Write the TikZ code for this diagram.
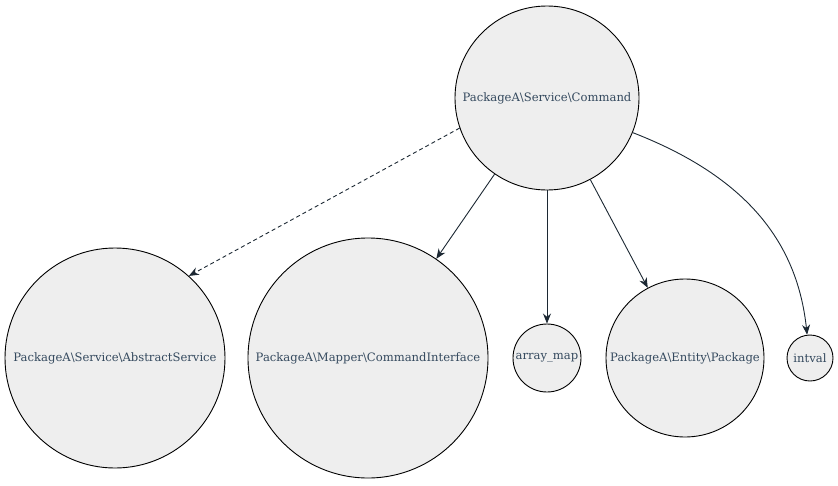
\documentclass[tikz,border=0pt]{standalone}
\usepackage{fontspec}
\setmainfont{DejaVu Serif}
\usetikzlibrary{arrows.meta}
\definecolor{nodefill}{HTML}{EEEEEE}
\definecolor{txt}{HTML}{34495E}
\definecolor{edge}{HTML}{1C2833}
\tikzset{
  cls/.style={circle, draw=black, line width=0.9pt, fill=nodefill, text=txt, font=\fontsize{11.6}{14}\selectfont, inner sep=0pt},
  dep/.style={draw=edge, line width=0.9pt, -{Stealth[length=10pt,width=8pt]}},
}
\begin{document}
\begin{tikzpicture}[x=1pt,y=-1pt]
\useasboundingbox (0,0) rectangle (838,485);
\node[cls, minimum size=184pt] (cmd) at (547,98) {PackageA\textbackslash Service\textbackslash Command};
\node[cls, minimum size=220pt] (abs) at (115,358) {PackageA\textbackslash Service\textbackslash AbstractService};
\node[cls, minimum size=240pt] (ci) at (368,358) {PackageA\textbackslash Mapper\textbackslash CommandInterface};
\node[cls, minimum size=68pt] (am) at (547,358) {array\_map};
\node[cls, minimum size=158pt] (pkg) at (685,358) {PackageA\textbackslash Entity\textbackslash Package};
\node[cls, minimum size=46pt] (iv) at (810,358) {intval};
\draw[dep, dashed, dash pattern=on 4pt off 3pt] (cmd.199) -- (abs.48);
\draw[dep] (cmd) -- (ci);
\draw[dep] (cmd) -- (am);
\draw[dep] (cmd) -- (pkg);
\draw[dep] (cmd.-22) .. controls (755,180) and (798,250) .. (iv.97);
\end{tikzpicture}
\end{document}
